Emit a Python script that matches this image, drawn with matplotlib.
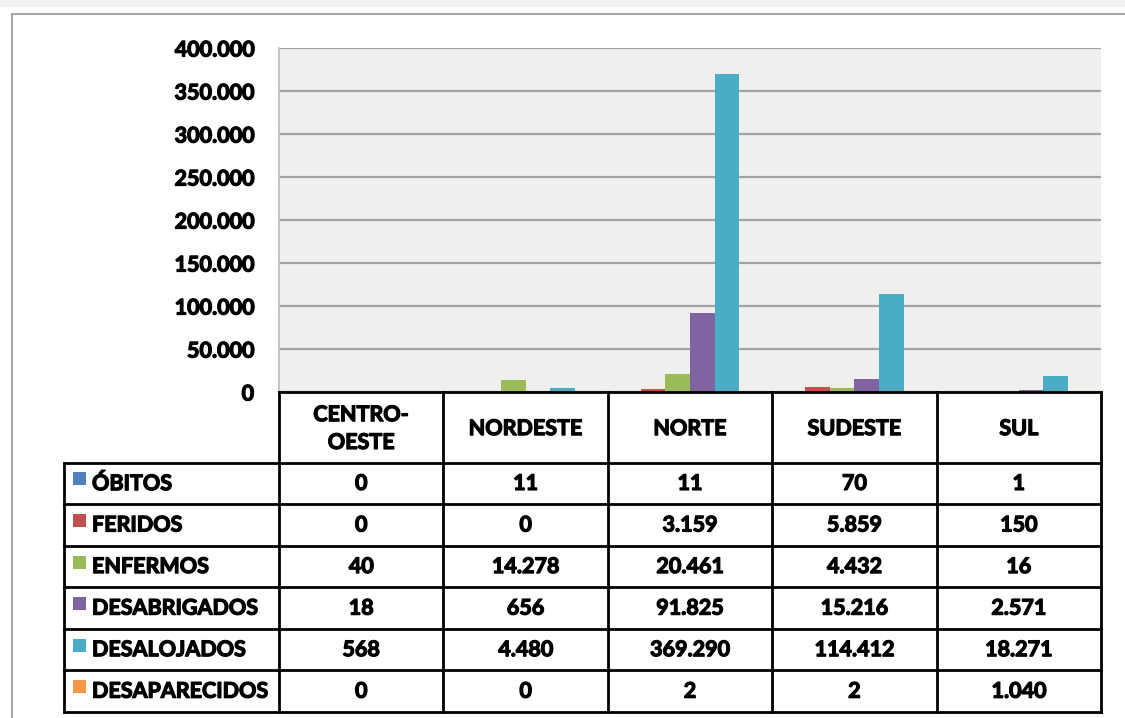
import matplotlib
matplotlib.use("Agg")
import matplotlib.pyplot as plt
import matplotlib.patheffects as pe
from matplotlib.patches import Rectangle
from matplotlib.ticker import FuncFormatter, MultipleLocator
import numpy as np

# --- dados (tabela do relatório) ---
regioes = ["CENTRO-\nOESTE", "NORDESTE", "NORTE", "SUDESTE", "SUL"]
series = ["ÓBITOS", "FERIDOS", "ENFERMOS", "DESABRIGADOS", "DESALOJADOS", "DESAPARECIDOS"]
obitos = [0, 11, 11, 70, 1]
feridos = [0, 0, 3159, 5859, 150]
enfermos = [40, 14278, 20461, 4432, 16]
desabrigados = [18, 656, 91825, 15216, 2571]
desalojados = [568, 4480, 369290, 114412, 18271]
desaparecidos = [0, 0, 2, 2, 1040]
valores = [obitos, feridos, enfermos, desabrigados, desalojados, desaparecidos]
cores = ["#4F81BD", "#C0504D", "#9BBB59", "#8064A2", "#4BACC6", "#F79646"]

FONT = "Lato"
FW = "bold"
FS = 15.5
# engrossa o traço (o original é Calibri bold, bem pesado)
HEAVY = [pe.withStroke(linewidth=0.9, foreground="black")]


def br(v, pos=None):
    return f"{int(round(v)):,}".replace(",", ".")


W, H = 1125, 718
fig = plt.figure(figsize=(W / 100, H / 100), dpi=100)
fig.patch.set_facecolor("white")

# moldura externa (estilo print de planilha)
fig.patches.append(Rectangle((0, 1 - 7 / H), 1, 7 / H, transform=fig.transFigure,
                             facecolor="#F2F2F2", edgecolor="none", zorder=0))
fig.patches.append(Rectangle((12 / W, -0.01), 1.0, 1 - 14 / H + 0.01, transform=fig.transFigure,
                             facecolor="none", edgecolor="#A8A8A8", lw=1.5, zorder=0))

# --- área do gráfico ---
x0, x1, ytop, ybot = 279, 1101, 48, 392
ax = fig.add_axes([x0 / W, 1 - ybot / H, (x1 - x0) / W, (ybot - ytop) / H])
ax.set_facecolor("#EFEFEE")
x = np.arange(len(regioes))
bw = 0.15
for i, (vals, c) in enumerate(zip(valores, cores)):
    ax.bar(x + (i - 2.5) * bw, vals, width=bw, color=c, zorder=3)
ax.set_xlim(-0.5, len(regioes) - 0.5)
ax.set_ylim(0, 400000)
ax.yaxis.set_major_locator(MultipleLocator(50000))
ax.yaxis.set_major_formatter(FuncFormatter(br))
ax.grid(axis="y", color="#A3A3A3", lw=1.6, zorder=1)
ax.set_xticks([])
ax.tick_params(axis="y", length=0, pad=18)
for lab in ax.get_yticklabels():
    lab.set_fontfamily(FONT)
    lab.set_fontweight(FW)
    lab.set_fontsize(FS)
    lab.set_path_effects(HEAVY)
for s in ["top", "right"]:
    ax.spines[s].set_visible(False)
ax.spines["left"].set_color("#BDBDBD")
ax.spines["left"].set_linewidth(1.2)
ax.spines["bottom"].set_visible(False)

# --- tabela de dados ---
tl, tb = 64, 712
ux = (x1 - x0) / len(regioes)           # px por categoria
lw_cols = (x0 - tl) / ux                # largura da coluna de rótulos
hdr = 1.7
nrow = len(series)
tax = fig.add_axes([tl / W, 1 - tb / H, (x1 - tl) / W, (tb - ybot) / H])
tax.set_xlim(-0.5 - lw_cols, len(regioes) - 0.5)
tax.set_ylim(0, nrow + hdr)
tax.axis("off")
uy = (tb - ybot) / (nrow + hdr)
left = -0.5 - lw_cols
right = len(regioes) - 0.5
lk = dict(color="black", lw=2.0, clip_on=False, solid_capstyle="projecting")
# horizontais
for k in range(nrow + 1):
    tax.plot([left, right], [k, k], **lk)
tax.plot([-0.5, right], [nrow + hdr, nrow + hdr], **lk)
# verticais
tax.plot([left, left], [0, nrow], **lk)
for j in range(len(regioes) + 1):
    tax.plot([j - 0.5, j - 0.5], [0, nrow + hdr], **lk)

txt = dict(fontfamily=FONT, fontweight=FW, fontsize=FS, color="black", path_effects=HEAVY)
for j, r in enumerate(regioes):
    tax.text(j, nrow + hdr / 2 - 0.03, r, ha="center", va="center", linespacing=1.4, **txt)
for i, (nome, vals, c) in enumerate(zip(series, valores, cores)):
    yc = nrow - i - 0.5
    tax.add_patch(Rectangle((left + 9 / ux, yc - 2 / uy), 13 / ux, 13 / uy,
                            facecolor=c, edgecolor="none", clip_on=False))
    tax.text(left + 28 / ux, yc, nome, ha="left", va="center", **txt)
    for j, v in enumerate(vals):
        tax.text(j, yc, br(v), ha="center", va="center", **txt)

fig.savefig("out.png", dpi=100)
